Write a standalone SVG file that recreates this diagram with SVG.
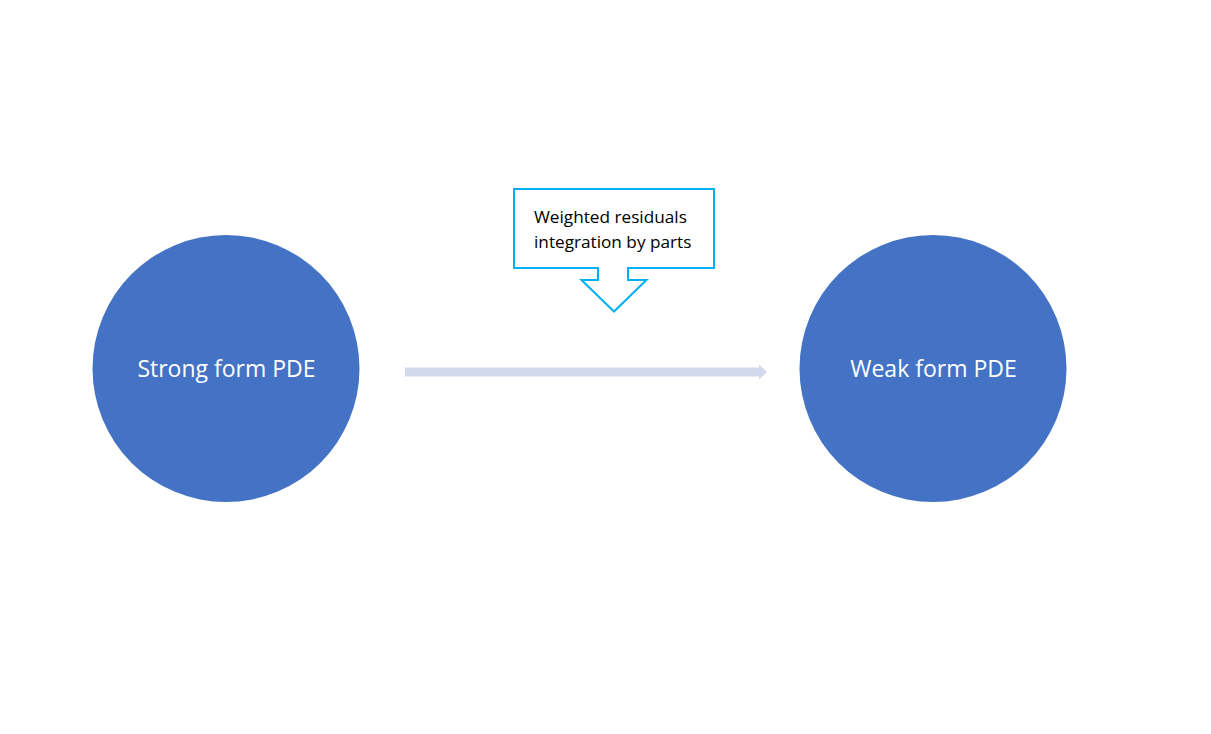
<svg xmlns="http://www.w3.org/2000/svg" width="1211" height="734" viewBox="0 0 1211 734">
<style>
.node{fill:#4472C4;}
.nlabel{font-family:"Open Sans","Liberation Sans",sans-serif;font-size:23px;fill:#FFFFFF;text-anchor:middle;}
.clabel{font-family:"Open Sans","Liberation Sans",sans-serif;font-size:17.2px;fill:#000000;}
.callout{fill:#FFFFFF;stroke:#00B0F0;stroke-width:2;}
</style>
<rect width="1211" height="734" fill="#FFFFFF"/>
<g id="connectors">
<path d="M405 367.5 H759 V364.5 L767 372 L759 379.5 V376.5 H405 Z" fill="#D3D9EC"/>
</g>
<g id="strong">
<circle class="node" cx="226" cy="368.5" r="133.5"/>
<text class="nlabel" x="226.5" y="376.5">Strong form PDE</text>
</g>
<g id="weak">
<circle class="node" cx="933" cy="368.5" r="133.5"/>
<text class="nlabel" x="933.5" y="376.5">Weak form PDE</text>
</g>
<g id="callout">
<path class="callout" d="M514 189 H714 V268 H628 V280 H646.5 L614 311.5 L581.5 280 H598 V268 H514 Z"/>
<text class="clabel" x="534" y="223">Weighted residuals</text>
<text class="clabel" x="534" y="247.5">integration by parts</text>
</g>
</svg>
